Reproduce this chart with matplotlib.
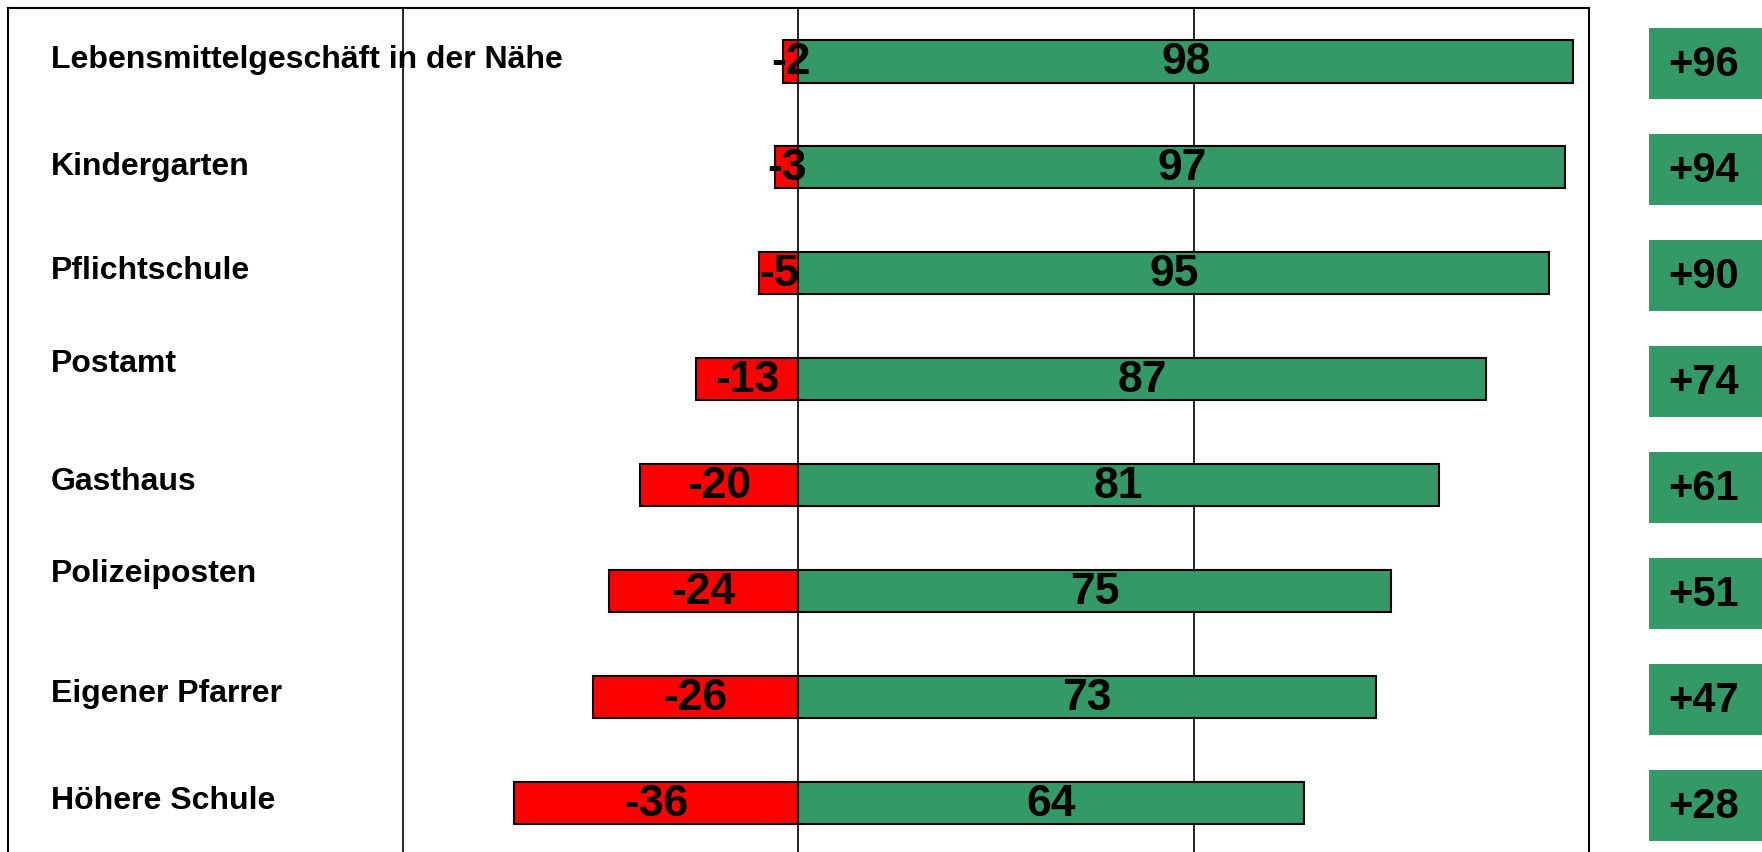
import matplotlib
matplotlib.use("Agg")
import matplotlib.pyplot as plt
import matplotlib.patches as patches
from matplotlib.transforms import blended_transform_factory
import numpy as np

# data
categories = [
    "Lebensmittelgeschäft in der Nähe",
    "Kindergarten",
    "Pflichtschule",
    "Postamt",
    "Gasthaus",
    "Polizeiposten",
    "Eigener Pfarrer",
    "Höhere Schule",
]
negative = [-2, -3, -5, -13, -20, -24, -26, -36]
positive = [98, 97, 95, 87, 81, 75, 73, 64]

GREEN = "#339966"
RED = "#ff0000"

plt.rcParams["font.family"] = ["Liberation Sans", "DejaVu Sans"]

fig = plt.figure(figsize=(17.62, 8.53), dpi=100)
ax = fig.add_axes([0.0045, -0.0047, 0.8973, 0.9941])

y = np.arange(len(categories))
ax.barh(y, negative, height=0.405, color=RED, edgecolor="black", linewidth=1.5, zorder=3)
ax.barh(y, positive, height=0.405, color=GREEN, edgecolor="black", linewidth=1.5, zorder=3)

ax.set_xlim(-100, 100)
ax.set_ylim(len(categories) - 0.5, -0.5)
for gx in (-50, 0, 50):
    ax.axvline(gx, color="black", lw=1.2, zorder=1)
ax.set_xticks([])
ax.set_yticks([])
for s in ax.spines.values():
    s.set_linewidth(1.5)

# small vertical nudges of the category labels, as in the original
label_dy = [-0.02, -0.01, -0.03, -0.15, -0.04, -0.17, -0.04, -0.03]
label_tr = blended_transform_factory(ax.transAxes, ax.transData)
for i, name in enumerate(categories):
    ax.text(0.027, y[i] + label_dy[i], name, transform=label_tr, ha="left", va="center",
            fontsize=23, fontweight="bold")

for i in range(len(categories)):
    ax.text(negative[i] / 2, y[i], str(negative[i]), ha="center", va="center",
            fontsize=32, fontweight="bold", zorder=4)
    ax.text(positive[i] / 2, y[i], str(positive[i]), ha="center", va="center",
            fontsize=32, fontweight="bold", zorder=4)

# net balance boxes on the right
box_tr = blended_transform_factory(fig.transFigure, ax.transData)
for i in range(len(categories)):
    net = positive[i] + negative[i]
    rect = patches.Rectangle((0.936, y[i] - 0.31), 0.07, 0.67, transform=box_tr,
                             facecolor=GREEN, edgecolor="none", clip_on=False)
    fig.add_artist(rect)
    fig.text(0.967, y[i] + 0.03, f"+{net}", transform=box_tr, ha="center", va="center",
             fontsize=30, fontweight="bold")

fig.savefig("out.png", dpi=100)
